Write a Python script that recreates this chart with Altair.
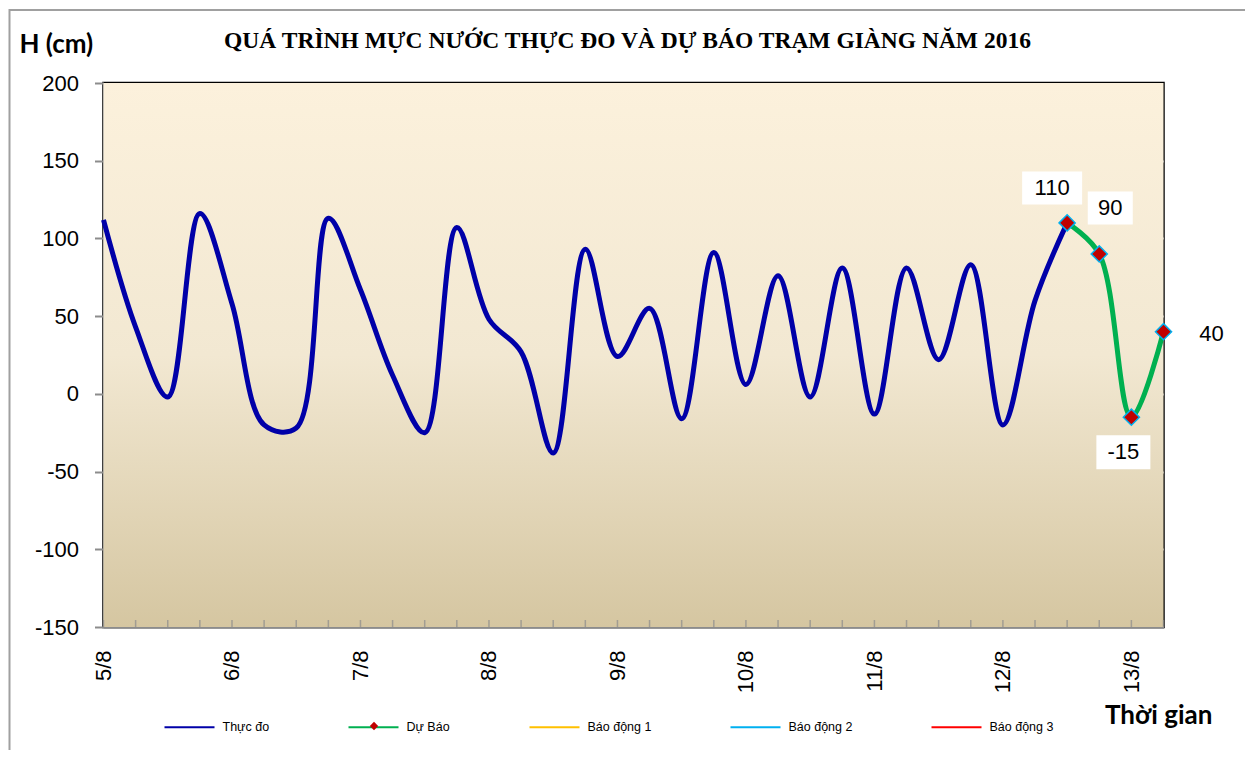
import json
import altair as alt
import pandas as pd

# ---------------- data ----------------
days = ["5/8", "6/8", "7/8", "8/8", "9/8", "10/8", "11/8", "12/8", "13/8"]
steps_per_day = 4
observed = [112, 43, -2, 116, 58, -20, -22, 113, 67, 12, -25, 107, 48, 27, -38,
            93, 24, 55, -16, 91, 6, 76, -2, 81, -13, 81, 22, 83, -20, 60, 110]
forecast = [110, 90, -15, 40]
forecast_labels = ["110", "90", "-15", "40"]
series = ["Thực đo", "Dự Báo", "Báo động 1", "Báo động 2", "Báo động 3"]
series_colors = ["#0000A8", "#00B050", "#FFC000", "#00B0F0", "#FF0000"]
y_ticks = [-150, -100, -50, 0, 50, 100, 150, 200]
title_text = "QUÁ TRÌNH MỰC NƯỚC THỰC ĐO VÀ DỰ BÁO TRẠM GIÀNG NĂM 2016"
y_title = "H (cm)"
x_title = "Thời gian"

# ---------------- tables ----------------
fc_start = len(observed) - 1
n_slots = fc_start + len(forecast)
obs_df = pd.DataFrame({"i": list(range(len(observed))), "h": observed, "s": series[0]})
fc_df = pd.DataFrame({"i": list(range(fc_start, n_slots)), "h": forecast,
                      "s": series[1], "lab": forecast_labels})
tick_df = pd.DataFrame({"i": list(range(n_slots))})

# ---------------- layout / style ----------------
W, H = 1060, 544
FONT = "Liberation Sans"
GRAY = "#8C8C8C"

label_style = {  # dx, dy, box width, box height
    "110": (-15, -35, 60, 33),
    "90": (11, -46, 45, 33),
    "-15": (-8, 35, 54, 34),
    "40": (48, 2, 44, 33),
}

x_scale = alt.Scale(domain=[0, n_slots - 1], nice=False, zero=False)
y_scale = alt.Scale(domain=[-150, 200], nice=False)
color_scale = alt.Scale(domain=series, range=series_colors)

label_expr = "%s[floor(datum.value / %d)]" % (json.dumps(days, ensure_ascii=False), steps_per_day)

x_axis = alt.Axis(
    values=list(range(0, n_slots, steps_per_day)),
    labelExpr=label_expr,
    labelAngle=-90, labelAlign="right", labelBaseline="middle",
    labelPadding=23, labelFont=FONT, labelFontSize=22, labelColor="black",
    ticks=False, grid=False, domainColor=GRAY, domainWidth=2,
    title=x_title, titleFont="Lato", titleFontWeight="bold", titleFontSize=26,
    titleColor="black", titleX=1001, titleY=96, titleAlign="left",
    titleBaseline="alphabetic", labelOverlap=False, labelBound=False,
)
y_axis = alt.Axis(
    values=y_ticks, labelExpr="'' + datum.value",
    labelFont=FONT, labelFontSize=22, labelColor="black",
    labelPadding=16, tickSize=9, tickColor=GRAY, tickWidth=2,
    domainColor=GRAY, domainWidth=2, grid=True,
    gridColor={"condition": {"test": "datum.value == 200", "value": "#000000"}, "value": GRAY},
    gridWidth=2, title=None,
)

X = alt.X("i:Q", scale=x_scale, axis=x_axis)
Y = alt.Y("h:Q", scale=y_scale, axis=y_axis)

legend = alt.Legend(
    orient="none", legendX=60, legendY=618, direction="horizontal", title=None,
    symbolType="stroke", symbolSize=2500, symbolStrokeWidth=2,
    labelFont=FONT, labelFontSize=12.5, labelColor="black", labelOffset=7,
    columnPadding=75, labelLimit=300,
)

marker_legend = alt.Legend(
    orient="none", legendX=265.5, legendY=638, direction="horizontal", title=None,
    symbolType="diamond", symbolSize=70, symbolFillColor="#C00000",
    symbolStrokeColor="#00B0F0", symbolStrokeWidth=1.2, symbolOpacity=1,
    labelOpacity=0, labelFontSize=1, labelOffset=0,
)

gradient = alt.Gradient(
    gradient="linear",
    stops=[alt.GradientStop(color="#FCF1DC", offset=0),
           alt.GradientStop(color="#F2E8D2", offset=0.5),
           alt.GradientStop(color="#D5C6A1", offset=1)],
    x1=0, x2=0, y1=0, y2=1,
)

one = pd.DataFrame({"t": [title_text]})

background = alt.Chart(one).mark_rect(fill=gradient).encode(
    x=alt.value(0), x2=alt.value(W), y=alt.value(0), y2=alt.value(H)
)

obs_line = alt.Chart(obs_df).mark_line(strokeWidth=5, interpolate="catmull-rom").encode(
    x=X, y=Y, color=alt.Color("s:N", scale=color_scale, legend=legend),
)

ticks = alt.Chart(tick_df).mark_tick(orient="vertical", size=7, thickness=1.5, color=GRAY).encode(
    x=X, y=alt.value(H - 3.5)
)

fc_line = alt.Chart(fc_df).mark_line(strokeWidth=5, interpolate="catmull-rom").encode(
    x=X, y=Y, color=alt.Color("s:N", scale=color_scale, legend=legend),
)

fc_points = alt.Chart(fc_df).mark_point(
    filled=True, fill="#C00000", stroke="#00B0F0",
    strokeWidth=1.5, size=260, opacity=1,
).encode(
    x=X, y=Y,
    shape=alt.Shape("s:N", scale=alt.Scale(domain=[series[1]], range=["diamond"]),
                    legend=marker_legend),
)

label_layers = []
for lab, (dx, dy, bw, bh) in label_style.items():
    a = bh / bw
    path = "M-1,-%.4fL1,-%.4fL1,%.4fL-1,%.4fZ" % (a, a, a, a)
    base = alt.Chart(fc_df).transform_filter(alt.datum.lab == lab)
    box = base.mark_point(shape=path, filled=True, fill="white", strokeWidth=0,
                          size=bw * bw, opacity=1, xOffset=dx, yOffset=dy).encode(x=X, y=Y)
    txt = base.mark_text(font=FONT, fontSize=22, color="black", dx=dx, dy=dy,
                         align="center", baseline="middle").encode(x=X, y=Y, text="lab:N")
    label_layers += [box, txt]

title = alt.Chart(one).mark_text(
    font="Liberation Serif", fontSize=23.5, fontWeight="bold", color="black",
    align="center", baseline="alphabetic",
).encode(x=alt.value(W / 2 - 6), y=alt.value(-35), text="t:N")

ytitle = alt.Chart(pd.DataFrame({"t": [y_title]})).mark_text(
    font="Lato", fontSize=26, fontWeight="bold", color="black",
    align="left", baseline="alphabetic",
).encode(x=alt.value(-84), y=alt.value(-30), text="t:N")

frame = alt.Chart(one).mark_rect(fill=None, stroke="#A0A0A0", strokeWidth=2).encode(
    x=alt.value(-94), x2=alt.value(1143), y=alt.value(-73), y2=alt.value(700)
)

chart = alt.layer(
    background, obs_line, ticks, fc_line, fc_points, *label_layers, title, ytitle, frame
).properties(
    width=W, height=H,
    autosize=alt.AutoSizeParams(type="none"),
    padding={"left": 95.5, "top": 75, "right": 81.5, "bottom": 123},
).configure_view(stroke="black", strokeWidth=2.5)

chart.save("out.html", embed_options={"renderer": "svg", "actions": False})
